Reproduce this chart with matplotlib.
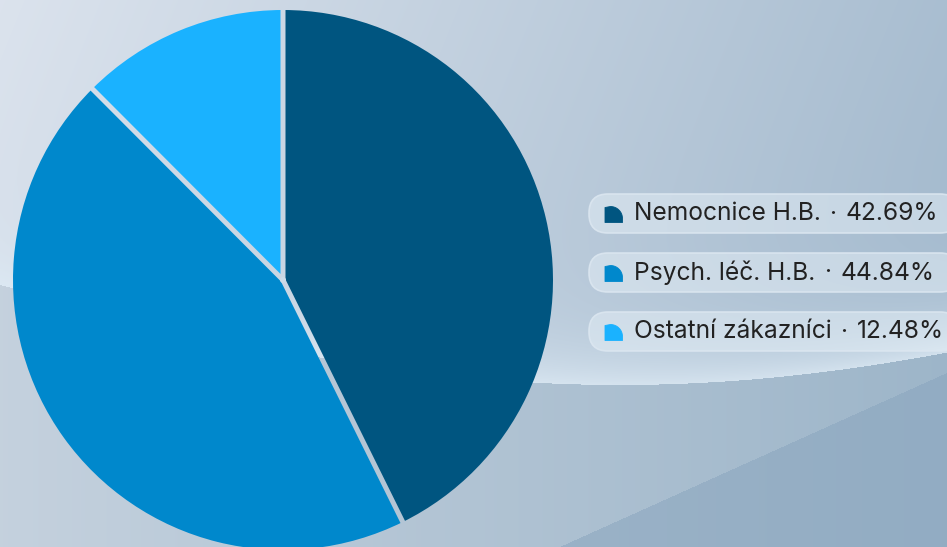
import numpy as np
import matplotlib
matplotlib.use("Agg")
import matplotlib.pyplot as plt
from matplotlib.patches import FancyBboxPatch, PathPatch
from matplotlib.path import Path

# ---- data ----
categories = ["Nemocnice H.B.", "Psych. léč. H.B.", "Ostatní zákazníci"]
shares = [42.69, 44.84, 12.48]
colors = ["#005580", "#0088cc", "#1ab2ff"]

W, H = 947, 547
fig = plt.figure(figsize=(W / 100, H / 100), dpi=100)

# ---- background ----
bg = fig.add_axes([0, 0, 1, 1])
bg.set_xlim(0, W)
bg.set_ylim(H, 0)
bg.axis("off")

X, Y = np.meshgrid(np.arange(W) + 0.5, np.arange(H) + 0.5)
yc = 285 + 100 * np.sin(np.pi * X / 1240.0)
tl = np.array([0.86, 0.89, 0.93])
tr = np.array([0.63, 0.72, 0.80])
t = np.clip(X / W * 0.85 + Y / H * 0.2, 0, 1)[..., None]
upper = tl * (1 - t) + tr * t
d = (yc - Y)
glow = (np.exp(-np.clip(d, 0, None) / 40.0) * 0.8)[..., None]
hl = np.array([0.87, 0.92, 0.96])
upper = upper * (1 - glow) + hl * glow
l1 = np.array([0.77, 0.82, 0.87])
l2 = np.array([0.60, 0.70, 0.78])
t2 = np.clip(X / W * 0.9, 0, 1)[..., None]
lower = l1 * (1 - t2) + l2 * t2
diag = (Y - 373) * (947 - 560) + (X - 947) * (547 - 373) > 0
dark = np.array([0.53, 0.64, 0.74])
lower = np.where(diag[..., None], lower * 0.5 + dark * 0.5, lower)
img = np.where((d > 0)[..., None], upper, lower)
bg.imshow(img, extent=(0, W, H, 0), zorder=0, interpolation="bilinear", aspect="auto")

# ---- pie ----
cx, cy, r = 283, 280, 270
pax = fig.add_axes([(cx - r) / W, (H - cy - r) / H, 2 * r / W, 2 * r / H])
pax.set_xlim(-1, 1)
pax.set_ylim(-1, 1)
pax.set_aspect("equal")
pax.axis("off")
wedges, _ = pax.pie(shares, colors=colors, startangle=90, counterclock=False, radius=1,
                    wedgeprops=dict(linewidth=0))
for p in wedges:
    p.set_clip_on(False)
pax.set_xlim(-1, 1)
pax.set_ylim(-1, 1)

# ---- transparent gaps between slices (show background through) ----
gx = fig.add_axes([0, 0, 1, 1])
gx.set_xlim(0, W)
gx.set_ylim(H, 0)
gx.axis("off")
gap = 5.0
verts, codes = [], []
for w in wedges:
    th = np.deg2rad(w.theta1)
    ux, uy = np.cos(th), -np.sin(th)
    nx, ny = -uy, ux
    L = r + 4
    pts = [(cx + nx * gap / 2, cy + ny * gap / 2),
           (cx + ux * L + nx * gap / 2, cy + uy * L + ny * gap / 2),
           (cx + ux * L - nx * gap / 2, cy + uy * L - ny * gap / 2),
           (cx - nx * gap / 2, cy - ny * gap / 2)]
    verts += pts + [pts[0]]
    codes += [Path.MOVETO, Path.LINETO, Path.LINETO, Path.LINETO, Path.CLOSEPOLY]
clip = PathPatch(Path(verts, codes), transform=gx.transData, facecolor="none", edgecolor="none")
gx.add_patch(clip)
gim = gx.imshow(img, extent=(0, W, H, 0), interpolation="bilinear", aspect="auto")
gim.set_clip_path(clip)
gx.add_patch(plt.Circle((cx, cy), gap / 2 + 0.5, facecolor=(0.80, 0.86, 0.91), edgecolor="none"))

# ---- legend ----
lg = fig.add_axes([0, 0, 1, 1])
lg.set_xlim(0, W)
lg.set_ylim(H, 0)
lg.axis("off")

centers = [213.5, 272.5, 331.5]
ph = 39
fs = 17.7
renderer = fig.canvas.get_renderer()
for i, (cat, val, col) in enumerate(zip(categories, shares, colors)):
    yc0 = centers[i]
    pill = FancyBboxPatch((589, yc0 - ph / 2), 370, ph,
                          boxstyle="round,pad=0,rounding_size=19",
                          facecolor=(0.90, 0.94, 0.97, 0.50),
                          edgecolor=(0.86, 0.90, 0.94, 0.9), linewidth=1.2, zorder=2)
    lg.add_patch(pill)
    x0, y0, s = 605, yc0 - 7, 17.5
    R = 12
    k = 0.5523
    verts = [(x0, y0 + 16), (x0, y0 + 1), (x0 + s - R, y0),
             (x0 + s - R + R * k, y0), (x0 + s, y0 + R - R * k), (x0 + s, y0 + R),
             (x0 + s, y0 + 16), (x0, y0 + 16)]
    codes = [Path.MOVETO, Path.LINETO, Path.LINETO,
             Path.CURVE4, Path.CURVE4, Path.CURVE4,
             Path.LINETO, Path.CLOSEPOLY]
    lg.add_patch(PathPatch(Path(verts, codes), facecolor=col, edgecolor=col,
                           linewidth=0.6, joinstyle="round", zorder=3))
    tx = lg.text(634, yc0 + 0.5, cat, fontsize=fs, family=["Inter", "DejaVu Sans"],
                 color="#222222", va="center", ha="left", zorder=4)
    bb = tx.get_window_extent(renderer=renderer)
    xe = bb.x1
    lg.text(xe + 12, yc0 + 0.5, "·", fontsize=fs, family=["Inter", "DejaVu Sans"],
            color="#222222", va="center", ha="center", zorder=4)
    lg.text(xe + 25, yc0 + 0.5, f"{val:.2f}%", fontsize=fs, family=["Inter", "DejaVu Sans"],
            color="#222222", va="center", ha="left", zorder=4)

fig.savefig("out.png", dpi=100)
